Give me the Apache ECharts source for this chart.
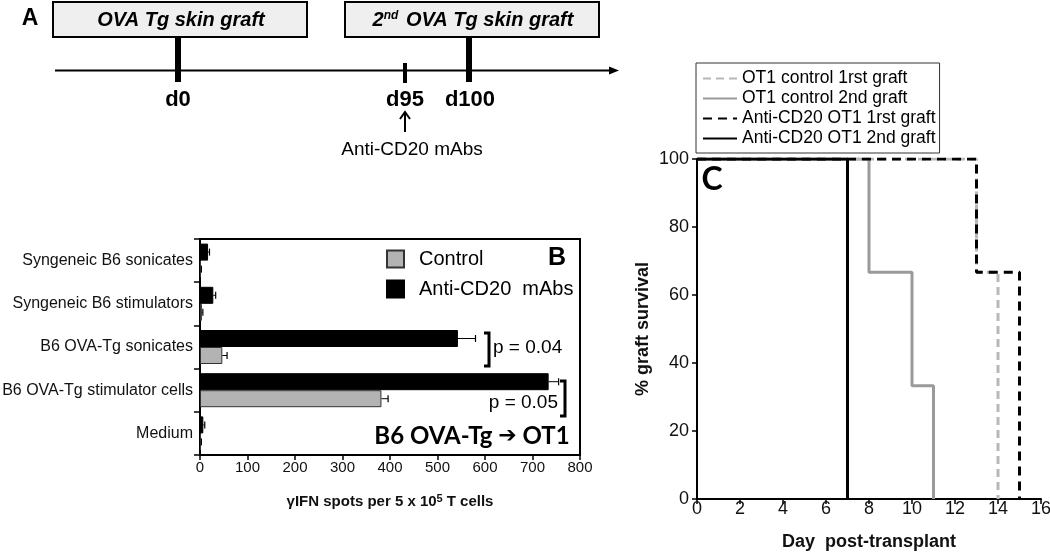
<!DOCTYPE html>
<html><head><meta charset="utf-8">
<script src="https://cdn.jsdelivr.net/npm/echarts@6/dist/echarts.min.js"></script>
<style>html,body{margin:0;padding:0;background:#fff}#c{width:1050px;height:552px}</style>
</head><body><div id="c"></div>
<script>
// ---- Panel A (timeline) ----
const graftBoxes = ['OVA Tg skin graft', '2nd OVA Tg skin graft'];
const timelineDays = ['d0', 'd95', 'd100'];
const treatmentLabel = 'Anti-CD20 mAbs';

// ---- Panel B (ELISPOT bars) ----
const categoriesB = ['Syngeneic B6 sonicates', 'Syngeneic B6 stimulators', 'B6 OVA-Tg sonicates', 'B6 OVA-Tg stimulator cells', 'Medium'];
const controlValues = [2, 4, 47, 382, 2];
const controlErrTop = [3, 6, 57, 396, 3];
const antiValues = [17, 28, 543, 734, 7];
const antiErrTop = [20, 33, 580, 755, 10];
const pValues = ['p = 0.04', 'p = 0.05'];

// ---- Panel C (graft survival, step points [day, %]) ----
const ot1Control1st = [[0, 100], [13, 66.7], [14, 0]];
const ot1Control2nd = [[0, 100], [8, 66.7], [10, 33.3], [11, 0]];
const anti1st = [[0, 100], [13, 66.7], [15, 0]];
const anti2nd = [[0, 100], [7, 0]];
const seriesNamesC = ['OT1 control 1rst graft', 'OT1 control 2nd graft', 'Anti-CD20 OT1 1rst graft', 'Anti-CD20 OT1 2nd graft'];

const AR = 'Liberation Sans, Arial, sans-serif';
const CAL = 'Lato, Open Sans, DejaVu Sans, sans-serif';
const BARW = 17;

const chart = echarts.init(document.getElementById('c'));

function errItem(offset) {
  return function (params, api) {
    const base = api.coord([api.value(2), api.value(1)]);
    const top = api.coord([api.value(0), api.value(1)]);
    const y = base[1] + offset;
    return {
      type: 'group',
      children: [
        { type: 'line', shape: { x1: base[0], y1: y, x2: top[0], y2: y }, style: { stroke: '#000', lineWidth: 1 } },
        { type: 'line', shape: { x1: top[0], y1: y - 3.5, x2: top[0], y2: y + 3.5 }, style: { stroke: '#000', lineWidth: 1.2 } }
      ]
    };
  };
}

const antiErrData = antiErrTop.map((v, i) => [v, i, antiValues[i]]);
const ctrlErrData = controlErrTop.map((v, i) => [v, i, controlValues[i]]);

const g = [];
// Panel A
g.push({ type: 'text', x: 30, y: 19, style: { text: 'A', font: 'bold 23px ' + AR, fill: '#000', align: 'center', verticalAlign: 'middle' } });
g.push({ type: 'rect', shape: { x: 53, y: 2, width: 254, height: 35 }, style: { fill: '#efefef', stroke: '#000', lineWidth: 2 } });
g.push({ type: 'rect', shape: { x: 345, y: 2, width: 254, height: 35 }, style: { fill: '#efefef', stroke: '#000', lineWidth: 2 } });
g.push({ type: 'text', x: 181, y: 20, style: { text: graftBoxes[0], font: 'italic bold 20px ' + AR, fill: '#000', align: 'center', verticalAlign: 'middle' } });
g.push({ type: 'text', x: 473, y: 20, style: {
  text: graftBoxes[1].replace(/^(\d)(nd)/, '$1{s|$2}'),
  font: 'italic bold 20px ' + AR, fill: '#000', align: 'center', verticalAlign: 'middle',
  rich: { s: { fontSize: 12, fontStyle: 'italic', fontWeight: 'bold', fontFamily: AR, verticalAlign: 'top', padding: [0, 2, 6, 0] } }
} });
g.push({ type: 'line', shape: { x1: 55, y1: 70.5, x2: 612, y2: 70.5 }, style: { stroke: '#000', lineWidth: 2 } });
g.push({ type: 'polygon', shape: { points: [[609, 66.5], [619, 70.5], [609, 74.5]] }, style: { fill: '#000' } });
g.push({ type: 'rect', shape: { x: 175, y: 37, width: 6, height: 45 }, style: { fill: '#000' } });
g.push({ type: 'rect', shape: { x: 403, y: 63, width: 4, height: 20 }, style: { fill: '#000' } });
g.push({ type: 'rect', shape: { x: 466, y: 37, width: 6, height: 45 }, style: { fill: '#000' } });
const dayX = [178, 405, 470];
timelineDays.forEach((t, i) => g.push({ type: 'text', x: dayX[i], y: 100, style: { text: t, font: 'bold 22px ' + AR, fill: '#000', align: 'center', verticalAlign: 'middle' } }));
g.push({ type: 'line', shape: { x1: 405, y1: 132, x2: 405, y2: 113 }, style: { stroke: '#000', lineWidth: 2 } });
g.push({ type: 'polyline', shape: { points: [[400, 119], [405, 112], [410, 119]] }, style: { stroke: '#000', lineWidth: 2, fill: null } });
g.push({ type: 'text', x: 412, y: 150, style: { text: treatmentLabel, font: '19px ' + AR, fill: '#000', align: 'center', verticalAlign: 'middle' } });

// Panel B annotations
g.push({ type: 'text', x: 557, y: 258, style: { text: 'B', font: 'bold 25px ' + AR, fill: '#000', align: 'center', verticalAlign: 'middle' } });
g.push({ type: 'polyline', shape: { points: [[484, 333], [489, 333], [489, 366], [484, 366]] }, style: { stroke: '#000', lineWidth: 3, fill: null } });
g.push({ type: 'text', x: 493, y: 348, style: { text: pValues[0], font: '19px ' + AR, fill: '#000', align: 'left', verticalAlign: 'middle' } });
g.push({ type: 'polyline', shape: { points: [[560, 381], [565, 381], [565, 416], [560, 416]] }, style: { stroke: '#000', lineWidth: 3, fill: null } });
g.push({ type: 'text', x: 558, y: 403, style: { text: pValues[1], font: '19px ' + AR, fill: '#000', align: 'right', verticalAlign: 'middle' } });
g.push({ type: 'text', x: 472, y: 436, style: {
  text: 'B6 OVA-Tg {a|\u2794} OT1', font: 'bold 24px ' + CAL, fill: '#000', align: 'center', verticalAlign: 'middle',
  rich: { a: { fontFamily: 'DejaVu Sans', fontWeight: 'bold', fontSize: 22 } }
} });

// Panel C label
g.push({ type: 'text', x: 712, y: 180, style: { text: 'C', font: 'bold 32px ' + CAL, fill: '#000', align: 'center', verticalAlign: 'middle' } });

const lineC = (name, data, color, type, z) => ({
  name, type: 'line', xAxisIndex: 1, yAxisIndex: 1, data, step: 'end', symbol: 'none', showSymbol: false, z,
  lineStyle: { color, width: 3, type }, itemStyle: { color }
});

chart.setOption({
  backgroundColor: '#fff',
  animation: false,
  textStyle: { fontFamily: AR },
  grid: [
    { left: 200, top: 239, width: 380, height: 216, show: true, borderColor: '#000', borderWidth: 2, backgroundColor: 'transparent', containLabel: false, outerBoundsMode: 'none' },
    { left: 697, top: 159, width: 344, height: 340, show: false, containLabel: false, outerBoundsMode: 'none' }
  ],
  legend: [
    {
      data: ['Control', 'Anti-CD20  mAbs'], orient: 'vertical', left: 386, top: 249,
      itemWidth: 17, itemHeight: 17, itemGap: 10, padding: 0, icon: 'rect',
      textStyle: { fontSize: 20, color: '#000', fontFamily: AR, padding: [0, 0, 0, 10] }
    },
    {
      data: seriesNamesC, orient: 'vertical', left: 696, top: 63,
      itemWidth: 34, itemHeight: 14, itemGap: 1, padding: [6, 4, 5, 6],
      borderColor: '#333', borderWidth: 1, backgroundColor: '#fff',
      itemStyle: { opacity: 0 },
      textStyle: { fontSize: 17.5, color: '#000', fontFamily: AR, lineHeight: 19 }
    }
  ],
  xAxis: [
    {
      gridIndex: 0, type: 'value', min: 0, max: 800, interval: 100,
      axisLine: { show: true, lineStyle: { color: '#000', width: 2 } },
      axisTick: { show: true, length: 5, lineStyle: { color: '#000', width: 1.5 } },
      axisLabel: { fontSize: 15, color: '#111', margin: 5, fontFamily: AR },
      splitLine: { show: false },
      name: 'γIFN spots per 5 x 10{s|5}T cells', nameLocation: 'middle', nameGap: 38,
      nameTextStyle: { fontSize: 15, fontWeight: 'bold', color: '#111', fontFamily: AR,
        rich: { s: { fontSize: 11, fontWeight: 'bold', verticalAlign: 'top', padding: [0, 4, 6, 0] } } }
    },
    {
      gridIndex: 1, type: 'value', min: 0, max: 16, interval: 2,
      axisLine: { show: true, onZero: false, lineStyle: { color: '#000', width: 2 } },
      axisTick: { show: true, length: 5, lineStyle: { color: '#000', width: 1.5 } },
      axisLabel: { fontSize: 18, color: '#111', margin: 1, fontFamily: AR },
      splitLine: { show: false },
      name: 'Day  post-transplant', nameLocation: 'middle', nameGap: 34,
      nameTextStyle: { fontSize: 18, fontWeight: 'bold', color: '#111', fontFamily: AR }
    }
  ],
  yAxis: [
    {
      gridIndex: 0, type: 'category', data: categoriesB, inverse: true,
      axisLine: { show: true, lineStyle: { color: '#000', width: 2 } },
      axisTick: { show: true, length: 6, lineStyle: { color: '#000', width: 1.5 } },
      axisLabel: { fontSize: 16, color: '#111', margin: 7, fontFamily: AR },
      splitLine: { show: false }
    },
    {
      gridIndex: 1, type: 'value', min: 0, max: 100, interval: 20,
      axisLine: { show: true, onZero: false, lineStyle: { color: '#000', width: 2 } },
      axisTick: { show: true, length: 5, lineStyle: { color: '#000', width: 1.5 } },
      axisLabel: { fontSize: 18, color: '#111', margin: 8, fontFamily: AR },
      splitLine: { show: false },
      name: '% graft survival', nameLocation: 'middle', nameGap: 45, nameRotate: 90,
      nameTextStyle: { fontSize: 18, fontWeight: 'bold', color: '#111', fontFamily: AR }
    }
  ],
  series: [
    { name: 'Anti-CD20  mAbs', type: 'bar', xAxisIndex: 0, yAxisIndex: 0, data: antiValues, barWidth: BARW, barGap: '0%',
      itemStyle: { color: '#000', borderColor: '#000', borderWidth: 1 } },
    { name: 'Control', type: 'bar', xAxisIndex: 0, yAxisIndex: 0, data: controlValues, barWidth: BARW, barGap: '0%',
      itemStyle: { color: '#b3b3b3', borderColor: '#333', borderWidth: 1 } },
    { type: 'custom', xAxisIndex: 0, yAxisIndex: 0, data: antiErrData, renderItem: errItem(-BARW / 2), encode: { x: [0, 2], y: 1 }, z: 5, silent: true },
    { type: 'custom', xAxisIndex: 0, yAxisIndex: 0, data: ctrlErrData, renderItem: errItem(BARW / 2), encode: { x: [0, 2], y: 1 }, z: 5, silent: true },
    lineC(seriesNamesC[1], ot1Control2nd, '#9a9a9a', 'solid', 2),
    lineC(seriesNamesC[0], ot1Control1st, '#b8b8b8', [8, 5], 3),
    lineC(seriesNamesC[2], anti1st, '#000', [9, 6], 4),
    lineC(seriesNamesC[3], anti2nd, '#000', 'solid', 5)
  ],
  graphic: g
});
</script></body></html>
